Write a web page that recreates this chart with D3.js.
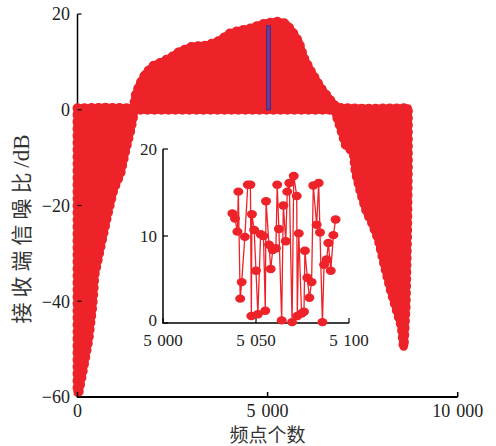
<!DOCTYPE html>
<html>
<head>
<meta charset="utf-8">
<script src="https://cdn.jsdelivr.net/npm/d3@7"></script>
<style>
  html, body { margin: 0; padding: 0; background: #fff; }
  svg { display: block; }
</style>
</head>
<body>
<svg id="chart" width="496" height="446"></svg>
<script>
// ---------------- DATA ----------------
// Main chart: envelope of the dense scatter of received SNR per frequency point
// Upper envelope (frequency point, SNR dB)
const upperEnvelope = [
  [0, 0.3], [700, 0.4], [1400, 0.3], [1474, 0.2], [1526, 2.9], [1632, 5.2], [1789, 7.5],
  [2000, 9.2], [2237, 10.0], [2500, 11.1], [2684, 12.1], [3026, 13.2], [3395, 13.4],
  [3737, 14.4], [4000, 15.9], [4263, 16.5], [4526, 16.9], [4658, 17.3], [4921, 18.0],
  [5263, 18.4], [5474, 18.0], [5632, 16.5], [5816, 14.2], [5947, 10.9], [6132, 8.1],
  [6395, 4.6], [6658, 1.9], [6816, 0.4], [7600, 0.2], [8690, 0.3]
];
// Lower envelope (frequency point, SNR dB)
const lowerEnvelope = [
  [0, -59.1], [26, -59.1], [158, -53.7], [289, -48.0], [395, -40.7], [447, -34.5],
  [632, -27.6], [816, -20.9], [947, -16.7], [1132, -13.2], [1263, -8.4], [1395, -4.2],
  [1500, 0], [4000, 0], [6763, 0], [6921, -3.8], [7053, -7.3], [7263, -9.0], [7316, -13.0],
  [7447, -17.1], [7605, -21.3], [7737, -23.4], [7921, -27.2], [8105, -33.4], [8237, -37.6],
  [8395, -41.8], [8526, -45.3], [8580, -49.5], [8632, -41.0], [8670, -26.0], [8690, -12.0]
];
// Zoom window marked on the main chart
const zoomWindow = { x0: 5000, x1: 5100, y0: 0, y1: 17.5 };

// Inset: frequency points 5 000 – 5 100
const insetX = [5037.3, 5038.7, 5040, 5040.5, 5041.5, 5042.3, 5044, 5045.6, 5047, 5047.5,
  5047.8, 5049, 5050, 5051, 5052.5, 5054, 5055, 5055.4, 5057, 5057.9, 5059, 5060.7,
  5061.4, 5062.3, 5063.8, 5064.7, 5066, 5066.8, 5067.9, 5069.4, 5070.3, 5071.9, 5072.2,
  5073, 5074.5, 5075.8, 5076.3, 5077.6, 5078.7, 5079.9, 5080.8, 5082.6, 5083.7, 5084.4,
  5085.7, 5086.6, 5088, 5088.9, 5090.2, 5091.6, 5092.8];
const insetY = [12.6, 12.0, 10.5, 15.1, 2.8, 4.7, 9.9, 15.9, 15.9, 0.8,
  12.5, 10.7, 6.0, 1.0, 10.2, 10.0, 1.4, 14.0, 9.0, 6.2, 8.4, 8.6,
  15.9, 10.8, 0.3, 13.5, 9.4, 15.1, 16.1, 0.1, 16.9, 14.6, 0.8,
  10.3, 1.1, 1.3, 8.3, 5.2, 2.9, 4.7, 15.8, 11.3, 16.1, 10.4,
  0.1, 6.7, 7.3, 9.2, 6.0, 10.1, 11.9];

// Tick values and labels
const mainXTicks = [0, 5000, 10000];
const mainXTickLabels = ["0", "5\u2004000", "10\u2004000"];
const mainYTicks = [20, 0, -20, -40, -60];
const mainYTickLabels = ["20", "0", "\u221220", "\u221240", "\u221260"];
const insetXTicks = [5000, 5050, 5100];
const insetXTickLabels = ["5\u2004000", "5\u2004050", "5\u2004100"];
const insetYTicks = [0, 10, 20];
const insetYTickLabels = ["0", "10", "20"];
const xTitle = "频点个数";
const yTitle = "接收端信噪比";
const yTitleUnit = "/dB";

// ---------------- DRAW ----------------
const RED = "#ee2229";
const NUM_FONT = "'Liberation Serif', 'Times New Roman', serif";
const CJK_FONT = "'Noto Sans CJK SC', sans-serif";
const svg = d3.select("#chart");

const x = d3.scaleLinear().domain([0, 10000]).range([77.5, 457.7]);
const y = d3.scaleLinear().domain([-60, 20]).range([397, 14]);

// axis lines (beneath the data)
svg.append("line").attr("x1", x(0)).attr("x2", x(0)).attr("y1", y(20)).attr("y2", y(-60))
  .attr("stroke", "#000").attr("stroke-width", 1.5);
svg.append("line").attr("x1", x(0) - 0.75).attr("x2", x(10000)).attr("y1", y(-60)).attr("y2", y(-60))
  .attr("stroke", "#000").attr("stroke-width", 2);

// envelope polygon
const outline = upperEnvelope.concat(lowerEnvelope.slice().reverse());
const lineGen = d3.line().x(d => x(d[0])).y(d => y(d[1])).curve(d3.curveLinearClosed);
const g = svg.append("g");
g.append("path").attr("d", lineGen(outline))
  .attr("fill", RED).attr("stroke", RED).attr("stroke-width", 8).attr("stroke-linejoin", "round");
g.append("path").attr("d", lineGen(outline))
  .attr("fill", "none").attr("stroke", RED).attr("stroke-width", 10)
  .attr("stroke-linecap", "round").attr("stroke-dasharray", "0 7");

// zoom window marker
svg.append("rect")
  .attr("x", x(zoomWindow.x0) - 1).attr("y", y(zoomWindow.y1))
  .attr("width", x(zoomWindow.x1) - x(zoomWindow.x0))
  .attr("height", y(zoomWindow.y0) - y(zoomWindow.y1))
  .attr("fill", "#7b3a90").attr("stroke", "#2e3192").attr("stroke-width", 1);

// main ticks (on top)
mainYTicks.forEach((t, i) => {
  svg.append("line").attr("x1", x(0)).attr("x2", x(0) + 4).attr("y1", y(t)).attr("y2", y(t))
    .attr("stroke", "#000").attr("stroke-width", 1.2);
  svg.append("text").attr("x", 70).attr("y", y(t)).attr("dy", "0.35em")
    .attr("text-anchor", "end").attr("font-family", NUM_FONT).attr("font-size", 18)
    .attr("fill", "#222").text(mainYTickLabels[i]);
});
mainXTicks.forEach((t, i) => {
  svg.append("line").attr("x1", x(t)).attr("x2", x(t)).attr("y1", y(-60)).attr("y2", y(-60) - 5)
    .attr("stroke", "#000").attr("stroke-width", 1.5);
  svg.append("text").attr("x", x(t)).attr("y", 417)
    .attr("text-anchor", "middle").attr("font-family", NUM_FONT).attr("font-size", 18)
    .attr("fill", "#222").text(mainXTickLabels[i]);
});

// titles
svg.append("text").attr("x", x(5000)).attr("y", 442).attr("text-anchor", "middle")
  .attr("font-family", CJK_FONT).attr("font-size", 19).attr("fill", "#333").text(xTitle);
const yt = svg.append("text").attr("transform", "translate(29,229) rotate(-90)")
  .attr("text-anchor", "middle").attr("fill", "#333");
yt.append("tspan").attr("font-family", CJK_FONT).attr("font-size", 21)
  .attr("letter-spacing", 5).text(yTitle);
yt.append("tspan").attr("font-family", NUM_FONT).attr("font-size", 23).text(yTitleUnit);

// ---------------- INSET ----------------
const ix = d3.scaleLinear().domain([5000, 5100]).range([163, 349]);
const iy = d3.scaleLinear().domain([0, 20]).range([323, 149]);
const ig = svg.append("g");
ig.append("line").attr("x1", ix(5000)).attr("x2", ix(5000)).attr("y1", iy(20)).attr("y2", iy(0))
  .attr("stroke", "#000").attr("stroke-width", 1.5);
ig.append("line").attr("x1", ix(5000) - 0.75).attr("x2", ix(5100)).attr("y1", iy(0)).attr("y2", iy(0))
  .attr("stroke", "#000").attr("stroke-width", 1.5);
insetYTicks.forEach((t, i) => {
  ig.append("line").attr("x1", ix(5000)).attr("x2", ix(5000) + 5).attr("y1", iy(t)).attr("y2", iy(t))
    .attr("stroke", "#000").attr("stroke-width", 1.2);
  ig.append("text").attr("x", 157).attr("y", iy(t)).attr("dy", t === 0 ? "0.2em" : "0.35em")
    .attr("text-anchor", "end").attr("font-family", NUM_FONT).attr("font-size", 17)
    .attr("fill", "#222").text(insetYTickLabels[i]);
});
insetXTicks.forEach((t, i) => {
  ig.append("line").attr("x1", ix(t)).attr("x2", ix(t)).attr("y1", iy(0)).attr("y2", iy(0) - 5)
    .attr("stroke", "#000").attr("stroke-width", 1.2);
  ig.append("text").attr("x", ix(t)).attr("y", 346)
    .attr("text-anchor", "middle").attr("font-family", NUM_FONT).attr("font-size", 17)
    .attr("fill", "#222").text(insetXTickLabels[i]);
});
const insetData = insetX.map((v, i) => [v, insetY[i]]);
ig.append("path").attr("d", d3.line().x(d => ix(d[0])).y(d => iy(d[1]))(insetData))
  .attr("fill", "none").attr("stroke", RED).attr("stroke-width", 1.3);
ig.selectAll("ellipse").data(insetData).join("ellipse")
  .attr("cx", d => ix(d[0])).attr("cy", d => iy(d[1]))
  .attr("rx", 5).attr("ry", 4.2).attr("fill", RED);
</script>
</body>
</html>
